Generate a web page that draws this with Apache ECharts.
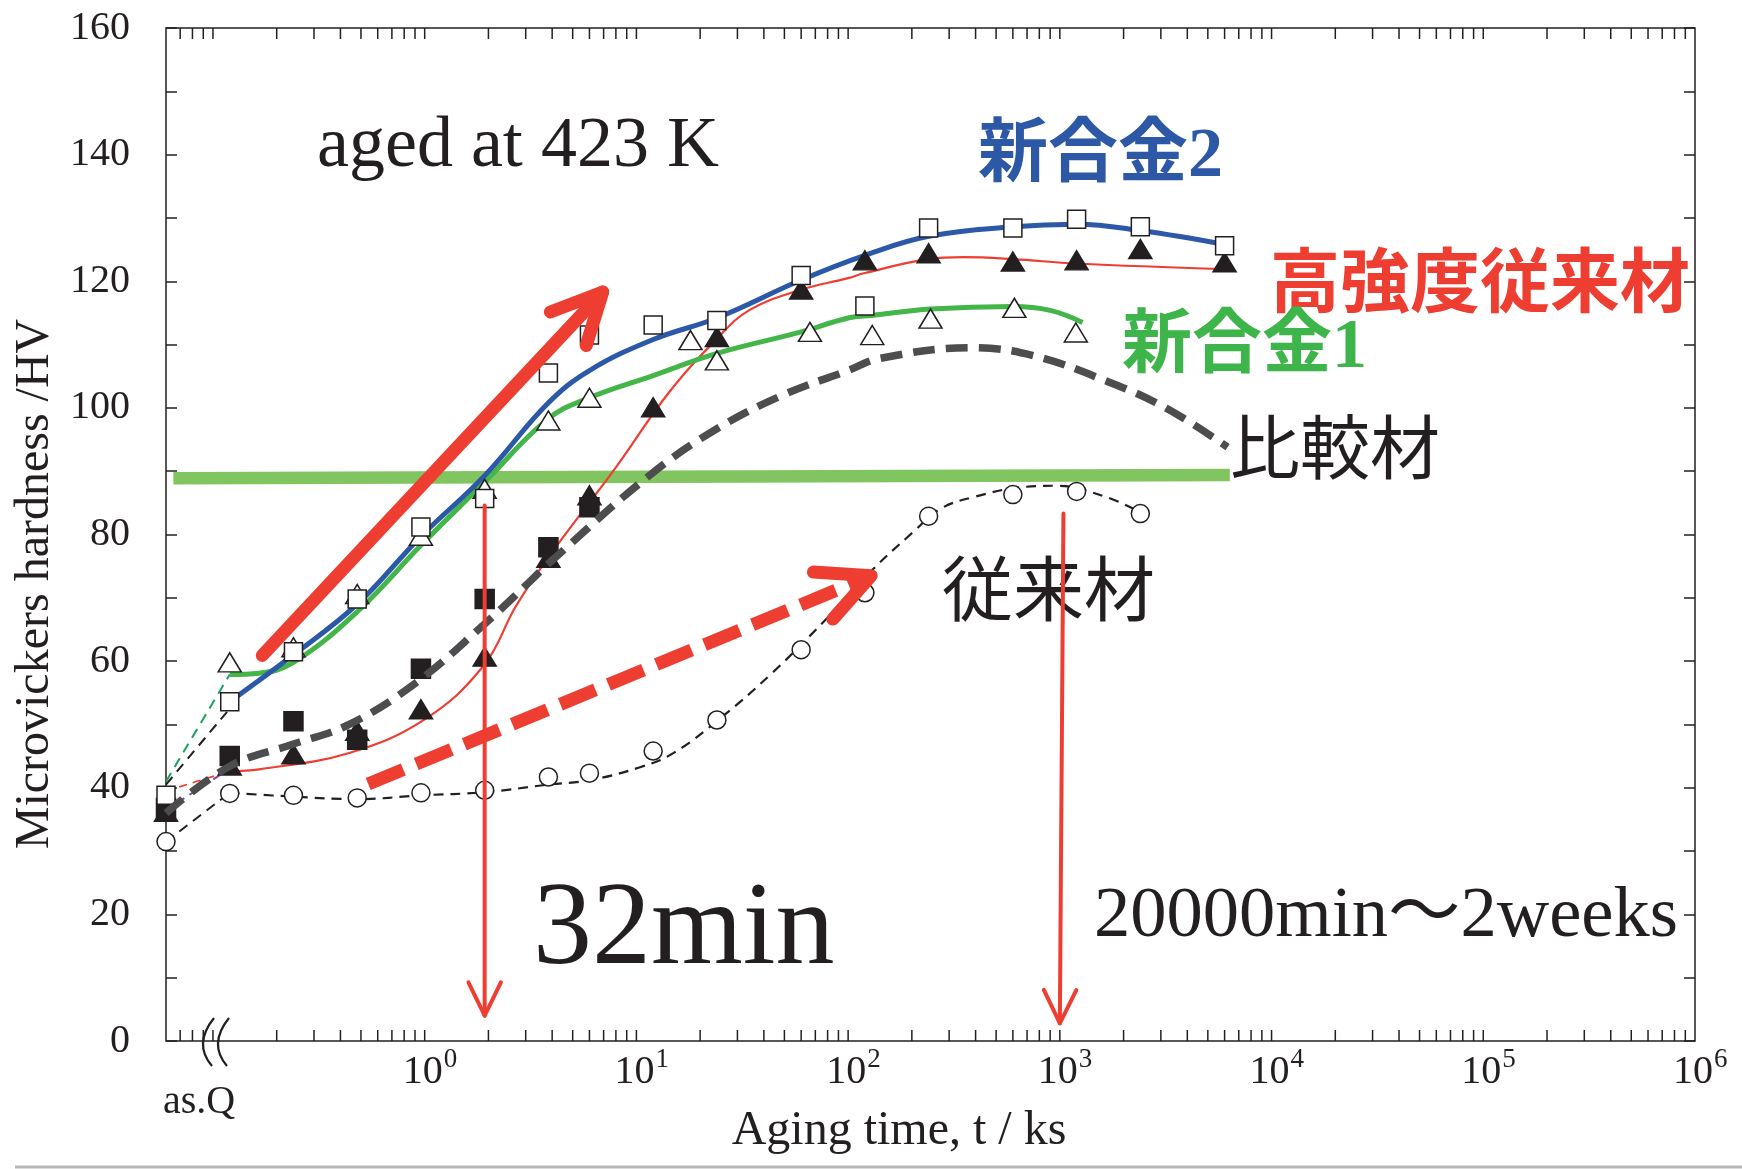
<!DOCTYPE html>
<html>
<head>
<meta charset="utf-8">
<title>Microvickers hardness - aging at 423 K</title>
<script src="https://cdn.jsdelivr.net/npm/echarts@6/dist/echarts.min.js"></script>
<style>
  html, body { margin: 0; padding: 0; background: #fff; }
  #myChart { width: 1742px; height: 1169px; }
</style>
</head>
<body>
<div id="myChart"></div>
<script>
// aging time in ks, first value is "as.Q" (drawn at the left edge)
const times = [0.06, 0.12, 0.24, 0.48, 0.96, 1.92, 3.84, 6, 12, 24, 60, 120, 240, 600, 1200, 2400, 6000];

// 新合金2 - open squares
const alloy2Hv = [38.8, 53.6, 61.5, 69.8, 81.2, 85.7, 105.5, 111.5, 113.1, 113.8, 120.9, 116.1, 128.4, 128.4, 129.8, 128.6, 125.6];
// 高強度従来材 - filled triangles
const highStrHv = [36.2, 43.5, 45.3, 49.0, 52.4, 60.7, 76.3, 86.2, 100.1, 111.2, 118.7, 123.3, 124.4, 123.1, 123.3, 125.1, 123.0];
// 比較材 - filled squares (only up to 6 ks)
const compHv = [36.8, 45.0, 50.5, 47.6, 58.8, 69.8, 78.0, 84.3];
// 従来材 - open circles (up to 2400 ks)
const convHv = [31.5, 39.1, 38.8, 38.4, 39.2, 39.6, 41.7, 42.3, 45.8, 50.7, 61.8, 70.8, 82.9, 86.3, 86.8, 83.3];
// 新合金1 - open triangles, measured at slightly other times
const alloy1Times = [0.12, 0.24, 0.48, 0.96, 1.92, 3.84, 6, 18, 24, 66, 130, 245, 610, 1190];
const alloy1Hv = [59.8, 62.2, 70.6, 79.8, 87.2, 98.0, 101.6, 110.7, 107.5, 112.0, 111.5, 114.1, 115.8, 111.9];

// fitted curves [t, HV]
const alloy2Fit = [[0.12, 53.6], [0.24, 61.0], [0.48, 69.0], [0.96, 79.7], [1.92, 89.3], [3.84, 100.8], [6, 105.9], [12, 110.8], [24, 114.2], [60, 120.2], [120, 124.1], [240, 127.1], [600, 128.6], [1200, 129.0], [2400, 128.0], [6000, 125.8]];
const alloy1Fit = [[0.12, 57.9], [0.165, 58.1], [0.24, 59.8], [0.48, 67.8], [0.96, 78.3], [1.92, 88.3], [3.84, 98.3], [6, 101.6], [12, 105.1], [24, 108.6], [60, 112.0], [100, 114.2], [130, 114.6], [245, 115.6], [600, 116.0], [900, 115.4], [1280, 113.5]];
const highStrFit = [[0.12, 42.6], [0.165, 42.9], [0.44, 45.5], [1.0, 50.8], [1.9, 59.3], [2.7, 68.7], [3.9, 76.7], [8, 90.6], [14.3, 102.5], [24, 110.9], [34, 115.4], [59, 118.6], [100, 120.5], [120, 121.3], [240, 123.5], [350, 123.8], [600, 123.5], [1200, 122.8], [6000, 121.9]];
const compFit = [[0.06, 36.0], [0.12, 43.4], [0.24, 46.9], [0.44, 50.0], [0.91, 56.6], [1.88, 65.6], [3.1, 72.4], [3.9, 75.6], [11.5, 89.3], [24, 96.7], [49, 102.0], [100, 105.9], [140, 107.8], [380, 109.5], [740, 108.3], [1700, 104.1], [3200, 99.9], [6200, 93.8]];
const convFit = [[0.12, 39.2], [0.24, 38.6], [0.48, 38.2], [0.96, 38.8], [1.92, 39.3], [3.84, 40.5], [6, 41.2], [10.3, 43.2], [15, 45.5], [25.6, 51.3], [44, 58.2], [76, 66.1], [131, 74.5], [203, 80.4], [271, 84.0], [390, 85.9], [670, 87.5], [970, 87.7], [1660, 85.9], [2400, 83.5]];

// dashed links from as.Q to the first aged point
const qLinkConv = [[0.06, 31.5], [0.12, 39.2]];
const qLinkAlloy2 = [[0.06, 40.5], [0.12, 52.5]];
const qLinkAlloy1 = [[0.06, 41.0], [0.12, 57.9]];
const qLinkHighStr = [[0.06, 39.5], [0.12, 42.6]];
const qLinkComp = [[0.06, 36.5], [0.12, 43.0]];

// green reference level
const refLine = [[0.065, 88.9], [6350, 89.4]];

// arrows [t1, hv1, t2, hv2] (tail -> tip)
const arrowNew = [0.171, 60.9, 6.93, 118.3];
const arrowConv = [0.541, 40.6, 128.6, 73.5];
const arrow32min = [1.92, 84.6, 1.92, 4.0];
const arrow2weeks = [1040, 83.3, 1000, 2.8];

const yTickLabels = [0, 20, 40, 60, 80, 100, 120, 140, 160];
// decades that carry a 10^n label
const xLabelPowers = [0, 1, 2, 3, 4, 5, 6];

// minor ticks of the log axis (2..9 of each decade)
const xTickVals = [0.07, 0.08, 0.09];
for (let e = -1; e <= 5; e++) {
  for (let k = 1; k <= 9; k++) xTickVals.push(k * Math.pow(10, e));
}

const ink = '#231f20';
const red = '#ee3e32';
const serif = '"Liberation Serif", "Times New Roman", serif';
const cjk = '"Noto Sans CJK JP", sans-serif';

function curve(name, pts, color, width, dash, z) {
  return {
    name: name, type: 'line', data: pts, smooth: 0.4, symbol: 'none', silent: true,
    lineStyle: { color: color, width: width, type: dash || 'solid', cap: 'butt' },
    z: z || 2
  };
}

function marks(name, xs, ys, symbol, size, filled) {
  return {
    name: name, type: 'scatter', symbol: symbol, symbolSize: size, silent: true,
    data: ys.map((v, i) => [xs[i], v]),
    itemStyle: { color: filled ? ink : '#fff', borderColor: ink, borderWidth: 1.5, opacity: 1 },
    z: 4
  };
}

function arrow(item, width, headLen, dash) {
  return {
    type: 'custom', data: [item], silent: true, clip: false, z: 6,
    renderItem: function (params, api) {
      const p1 = api.coord([api.value(0), api.value(1)]);
      const p2 = api.coord([api.value(2), api.value(3)]);
      const back = Math.atan2(p1[1] - p2[1], p1[0] - p2[0]);
      const spread = 26 * Math.PI / 180;
      const a = [p2[0] + headLen * Math.cos(back + spread), p2[1] + headLen * Math.sin(back + spread)];
      const b = [p2[0] + headLen * Math.cos(back - spread), p2[1] + headLen * Math.sin(back - spread)];
      return {
        type: 'group',
        children: [
          { type: 'line', shape: { x1: p1[0], y1: p1[1], x2: p2[0], y2: p2[1] },
            style: { stroke: red, lineWidth: width, lineDash: dash || null, lineCap: dash ? 'butt' : 'round' } },
          { type: 'polyline', shape: { points: [a, p2, b] },
            style: { stroke: red, fill: null, lineWidth: width, lineCap: 'round', lineJoin: 'round' } }
        ]
      };
    }
  };
}

let myChart = echarts.init(document.getElementById('myChart'));

myChart.setOption({
  animation: false,
  backgroundColor: '#fff',
  grid: {
    left: 166, right: 47, top: 28, bottom: 128,
    show: true, borderColor: ink, borderWidth: 1.5,
    outerBoundsMode: 'none'
  },
  xAxis: {
    type: 'log', logBase: 10, min: 0.06, max: 1000000,
    axisLine: { show: false },
    axisTick: { show: false },
    splitLine: { show: false },
    minorTick: { show: false },
    // 10^n labels are drawn by the custom series below (superscripts)
    axisLabel: { show: false }
  },
  yAxis: [
    {
      type: 'value', min: 0, max: 160, interval: 10,
      axisLine: { show: false },
      axisTick: { show: true, inside: true, length: 11, lineStyle: { color: ink, width: 1.5 } },
      splitLine: { show: false },
      axisLabel: {
        margin: 36, fontSize: 40, fontFamily: serif, color: ink,
        formatter: v => (yTickLabels.indexOf(v) >= 0 ? String(v) : '')
      }
    },
    {
      type: 'value', min: 0, max: 160, interval: 10, position: 'right',
      axisLine: { show: false },
      axisTick: { show: true, inside: true, length: 11, lineStyle: { color: ink, width: 1.5 } },
      splitLine: { show: false },
      axisLabel: { show: false }
    }
  ],
  series: [
    // reference level
    curve('ref', refLine, '#80c55f', 12.5, null, 2),

    // as.Q links
    curve('q-conv', qLinkConv, ink, 2, [10, 7]),
    curve('q-alloy2', qLinkAlloy2, ink, 2, [10, 7]),
    curve('q-alloy1', qLinkAlloy1, '#1a9f5c', 2, [10, 7]),
    curve('q-highstr', qLinkHighStr, red, 1.6, [8, 6]),
    curve('q-comp', qLinkComp, '#7a4fa0', 2, [8, 6]),

    // fitted curves
    curve('従来材 fit', convFit, ink, 2.2, [10, 7]),
    curve('高強度従来材 fit', highStrFit, red, 2.2),
    curve('新合金1 fit', alloy1Fit, '#43b549', 5),
    curve('新合金2 fit', alloy2Fit, '#2c58a8', 5),

    // measured points
    marks('従来材', times, convHv, 'circle', 18, false),
    marks('比較材', times, compHv, 'rect', 19, true),
    marks('高強度従来材', times, highStrHv, 'triangle', [23, 19], true),
    marks('新合金1', alloy1Times, alloy1Hv, 'triangle', [23, 19], false),
    marks('新合金2', times, alloy2Hv, 'rect', 18, false),

    curve('比較材 fit', compFit, '#4d4d4f', 7.5, [22, 11], 5),

    // arrows
    arrow(arrowNew, 13, 56),
    arrow(arrowConv, 13, 58, [38, 14]),
    arrow(arrow32min, 4, 37),
    arrow(arrow2weeks, 4, 37),

    // log minor ticks on bottom and top
    {
      type: 'custom', silent: true, clip: false, z: 7,
      data: xTickVals.map(v => [v, 0]),
      renderItem: function (params, api) {
        const b = api.coord([api.value(0), 0]);
        const t = api.coord([api.value(0), 160]);
        return {
          type: 'group',
          children: [
            { type: 'line', shape: { x1: b[0], y1: b[1], x2: b[0], y2: b[1] - 11 }, style: { stroke: ink, lineWidth: 1.5 } },
            { type: 'line', shape: { x1: t[0], y1: t[1], x2: t[0], y2: t[1] + 11 }, style: { stroke: ink, lineWidth: 1.5 } }
          ]
        };
      }
    },

    // x tick labels 10^n
    {
      type: 'custom', silent: true, clip: false, z: 7,
      data: xLabelPowers.map(n => [Math.pow(10, n), 0, n]),
      renderItem: function (params, api) {
        const p = api.coord([api.value(0), 0]);
        return {
          type: 'group',
          children: [
            { type: 'text', x: p[0] - 2, y: p[1] + 31,
              style: { text: '10', fontSize: 40, fontFamily: serif, fill: ink, align: 'center', verticalAlign: 'middle' } },
            { type: 'text', x: p[0] + 19, y: p[1] + 19,
              style: { text: String(api.value(2)), fontSize: 27, fontFamily: serif, fill: ink, align: 'left', verticalAlign: 'middle' } }
          ]
        };
      }
    }
  ],
  graphic: [
    { type: 'text', x: 35, y: 584, rotation: Math.PI / 2,
      style: { text: 'Microvickers hardness /HV', fontSize: 48, fontFamily: serif, fill: ink, align: 'center', verticalAlign: 'middle' } },
    { type: 'text', x: 899, y: 1131,
      style: { text: 'Aging time, t / ks', fontSize: 48, fontFamily: serif, fill: ink, align: 'center', verticalAlign: 'middle' } },
    { type: 'text', x: 199, y: 1102,
      style: { text: 'as.Q', fontSize: 40, fontFamily: serif, fill: ink, align: 'center', verticalAlign: 'middle' } },
    // axis break mark
    { type: 'bezierCurve', shape: { x1: 214, y1: 1018, cpx1: 193, cpy1: 1044, x2: 212, y2: 1066 },
      style: { stroke: ink, lineWidth: 2.2, fill: null }, z: 10 },
    { type: 'bezierCurve', shape: { x1: 229, y1: 1018, cpx1: 208, cpy1: 1044, x2: 227, y2: 1066 },
      style: { stroke: ink, lineWidth: 2.2, fill: null }, z: 10 },

    { type: 'text', x: 317, y: 147,
      style: { text: 'aged at 423 K', fontSize: 72, fontFamily: serif, fill: ink, align: 'left', verticalAlign: 'middle' } },
    { type: 'text', x: 978, y: 158,
      style: { text: '新合金2', fontSize: 70, fontWeight: 'bold', fontFamily: serif + ', ' + cjk, fill: '#2c58a6', align: 'left', verticalAlign: 'middle' } },
    { type: 'text', x: 1270, y: 280,
      style: { text: '高強度従来材', fontSize: 70, fontWeight: 'bold', fontFamily: cjk, fill: red, align: 'left', verticalAlign: 'middle' } },
    { type: 'text', x: 1122, y: 349,
      style: { text: '新合金1', fontSize: 70, fontWeight: 'bold', fontFamily: serif + ', ' + cjk, fill: '#3db54a', align: 'left', verticalAlign: 'middle' } },
    { type: 'text', x: 1230, y: 447,
      style: { text: '比較材', fontSize: 70, fontFamily: cjk, fill: ink, align: 'left', verticalAlign: 'middle' } },
    { type: 'text', x: 942, y: 588,
      style: { text: '従来材', fontSize: 71, fontFamily: cjk, fill: ink, align: 'left', verticalAlign: 'middle' } },
    { type: 'text', x: 533, y: 932,
      style: { text: '32min', fontSize: 118, fontFamily: serif, fill: ink, align: 'left', verticalAlign: 'middle' } },
    { type: 'text', x: 1094, y: 917,
      style: { text: '20000min～2weeks', fontSize: 72.5, fontFamily: serif + ', ' + cjk, fill: ink, align: 'left', verticalAlign: 'middle' } },

    // thin grey rule under the figure
    { type: 'line', shape: { x1: 15, y1: 1167, x2: 1742, y2: 1167 }, style: { stroke: '#b8b8b8', lineWidth: 3 } }
  ]
});
</script>
</body>
</html>
